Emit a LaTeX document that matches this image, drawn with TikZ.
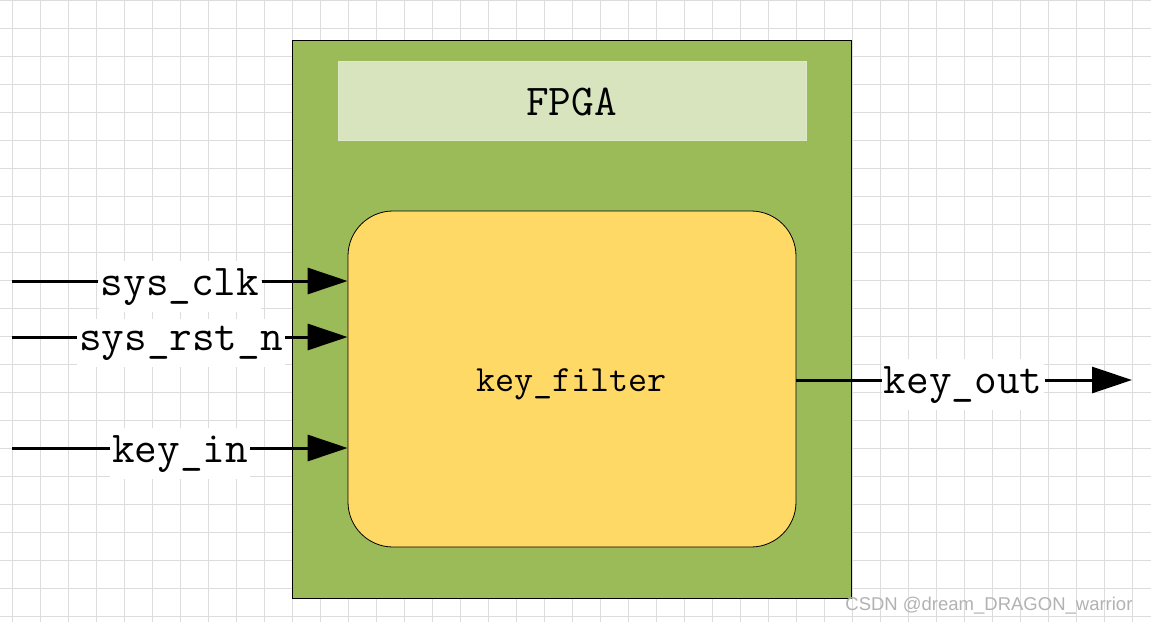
\documentclass[tikz,border=0pt]{standalone}
\usepackage{fontspec}
\usepackage{tikz}
\usetikzlibrary{arrows.meta,positioning}
\newfontfamily\wmfont{Liberation Sans}

\definecolor{fpgagreen}{HTML}{9BBB59}
\definecolor{titlegreen}{HTML}{D7E4BD}
\definecolor{moduleyellow}{HTML}{FFD966}
\definecolor{gridgray}{HTML}{DCDCDC}

\tikzset{
    fpgabox/.style={draw=black, line width=0.8pt, fill=fpgagreen, minimum width=559pt, minimum height=558pt, inner sep=0pt},
    titlebox/.style={draw=titlegreen!80!white, line width=1pt, fill=titlegreen, minimum width=468pt, minimum height=79pt, inner sep=0pt},
    modulebox/.style={draw=black, line width=0.8pt, fill=moduleyellow, rounded corners=45pt, minimum width=448pt, minimum height=336pt, inner sep=0pt},
    portlabel/.style={fill=white, inner xsep=2pt, inner ysep=7pt, anchor=base, font=\ttfamily\fontsize{44}{44}\selectfont},
    sig/.style={line width=3pt},
    sigarrow/.style={sig, -{Triangle[length=40pt,width=26pt]}},
}

\begin{document}
\begin{tikzpicture}[x=1pt, y=-1pt]
    \useasboundingbox (0,0) rectangle (1151,622);
    \fill[white] (0,0) rectangle (1151,622);
    % grid background
    \foreach \i in {0,...,40}
        \draw[gridgray, line width=1pt] (12.3+28*\i,0) -- (12.3+28*\i,622);
    \foreach \j in {0,...,22}
        \draw[gridgray, line width=1pt] (0,28*\j) -- (1151,28*\j);

    % blocks
    \node[fpgabox] (fpga) at (571.5,319) {};
    \node[titlebox] (title) at (572,100.5) {};
    \node[anchor=base, font=\ttfamily\fontsize{44}{44}\selectfont] (titletext) at (571.5,115) {FPGA};
    \node[modulebox] (filter) at (572,379) {};
    \node[anchor=base, font=\ttfamily\fontsize{37}{37}\selectfont] (filtertext) at (571.5,391) {key\_filter};

    % inputs
    \coordinate (clkin) at (12,281);
    \coordinate (rstin) at (12,337);
    \coordinate (keyin) at (12,448);
    \node[portlabel] (clk) at (180,295) {sys\_clk};
    \node[portlabel] (rst) at (181,350) {sys\_rst\_n};
    \node[portlabel] (key) at (180,462) {key\_in};

    \draw[sig] (clkin) -- (clkin -| clk.west);
    \draw[sigarrow] (clkin -| clk.east) -- (clkin -| filter.west);
    \draw[sig] (rstin) -- (rstin -| rst.west);
    \draw[sigarrow] (rstin -| rst.east) -- (rstin -| filter.west);
    \draw[sig] (keyin) -- (keyin -| key.west);
    \draw[sigarrow] (keyin -| key.east) -- (keyin -| filter.west);

    % output
    \coordinate (outend) at (1132,380);
    \node[portlabel] (out) at (963,393) {key\_out};
    \draw[sig] (filter.east |- outend) -- (outend -| out.west);
    \draw[sigarrow] (outend -| out.east) -- (outend);

    % watermark
    \node[anchor=base east, text=gray!60, font=\wmfont\fontsize{18.5}{18.5}\selectfont] (mark) at (1136,610) {CSDN @dream\_DRAGON\_warrior};
\end{tikzpicture}
\end{document}
